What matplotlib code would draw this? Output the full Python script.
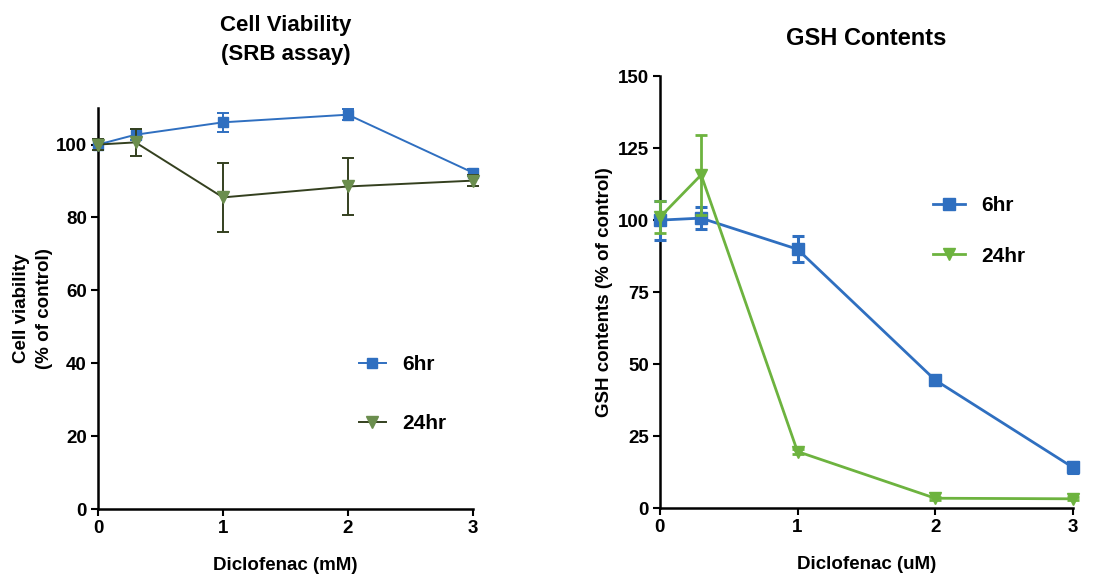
import matplotlib
matplotlib.use("Agg")
import matplotlib.pyplot as plt

plt.rcParams['font.family'] = ['Liberation Sans', 'DejaVu Sans']
plt.rcParams['font.weight'] = 'bold'

# Cell viability (SRB assay)
dose_mM = [0, 0.3, 1, 2, 3]
via_6hr = [100, 102.7, 106.1, 108.2, 92.3]
via_6hr_err = [1.5, 1.5, 2.6, 1.5, 1.0]
via_24hr = [100, 100.6, 85.5, 88.5, 90.1]
via_24hr_err = [1.5, 3.7, 9.5, 7.9, 1.5]

# GSH contents
dose_uM = [0, 0.3, 1, 2, 3]
gsh_6hr = [100, 100.7, 89.9, 44.5, 14.2]
gsh_6hr_err = [6.8, 3.7, 4.6, 1.2, 1.8]
gsh_24hr = [101, 115.7, 19.7, 3.5, 3.3]
gsh_24hr_err = [5.5, 13.9, 0.8, 0.5, 0.5]

blue = "#2f6fc0"
olive = "#6b8e4e"
olive_dark = "#34401f"
green = "#6db33f"

fig = plt.figure(figsize=(11.09, 5.76), dpi=100)
ax1 = fig.add_axes([0.0884, 0.1163, 0.338, 0.696])
ax2 = fig.add_axes([0.595, 0.1175, 0.3724, 0.7505])


def style_axes(ax):
    for side in ["top", "right"]:
        ax.spines[side].set_visible(False)
    for side in ["left", "bottom"]:
        ax.spines[side].set_linewidth(1.8)
    ax.tick_params(width=1.5, length=5, labelsize=13.5, pad=3)
    for lab in ax.get_xticklabels() + ax.get_yticklabels():
        lab.set_fontweight("bold")


def unclip(container):
    for art in container.get_children():
        art.set_clip_on(False)


# left panel
e1 = ax1.errorbar(dose_mM, via_6hr, yerr=via_6hr_err, color=blue, marker="s",
                  markersize=7, linewidth=1.4, capsize=4, elinewidth=1.4,
                  capthick=1.4, zorder=3)
e2 = ax1.errorbar(dose_mM, via_24hr, yerr=via_24hr_err, color=olive_dark,
                  marker="v", markersize=8, markerfacecolor=olive,
                  markeredgecolor=olive, linewidth=1.4, capsize=4,
                  elinewidth=1.4, capthick=1.4, zorder=4)
unclip(e1)
unclip(e2)
ax1.set_xlim(0, 3)
ax1.set_ylim(0, 110)
ax1.set_xticks([0, 1, 2, 3])
ax1.set_yticks([0, 20, 40, 60, 80, 100])
ax1.set_xlabel("Diclofenac (mM)", fontsize=13.5, fontweight="bold", labelpad=14)
ax1.set_ylabel("Cell viability\n(% of control)", fontsize=13.5,
               fontweight="bold", labelpad=2, linespacing=1.45)
ax1.set_title("Cell Viability\n(SRB assay)", fontsize=16, fontweight="bold",
              pad=35, linespacing=1.5)
style_axes(ax1)
ax1.legend([e1[0], e2[0]], ["6hr", "24hr"], loc="upper left",
           bbox_to_anchor=(0.645, 0.43), frameon=False,
           handlelength=1.3, labelspacing=1.9, handletextpad=0.8,
           prop={"weight": "bold", "size": 15})

# right panel
e3 = ax2.errorbar(dose_uM, gsh_6hr, yerr=gsh_6hr_err, color=blue, marker="s",
                  markersize=8, linewidth=2.0, capsize=4.5, elinewidth=2.2,
                  capthick=2.2, zorder=3)
e4 = ax2.errorbar(dose_uM, gsh_24hr, yerr=gsh_24hr_err, color=green,
                  marker="v", markersize=8, linewidth=2.0, capsize=4.5,
                  elinewidth=2.0, capthick=2.0, zorder=4)
unclip(e3)
unclip(e4)
ax2.set_xlim(0, 3)
ax2.set_ylim(0, 150)
ax2.set_xticks([0, 1, 2, 3])
ax2.set_yticks([0, 25, 50, 75, 100, 125, 150])
ax2.set_xlabel("Diclofenac (uM)", fontsize=13.5, fontweight="bold", labelpad=14)
ax2.set_ylabel("GSH contents (% of control)", fontsize=13.5,
               fontweight="bold", labelpad=3)
ax2.set_title("GSH Contents", fontsize=17, fontweight="bold", pad=22)
style_axes(ax2)
ax2.legend([e3[0], e4[0]], ["6hr", "24hr"], loc="upper left",
           bbox_to_anchor=(0.617, 0.765), frameon=False,
           handlelength=1.5, labelspacing=1.5, handletextpad=0.8,
           prop={"weight": "bold", "size": 15})

fig.savefig("out.png", dpi=100)
